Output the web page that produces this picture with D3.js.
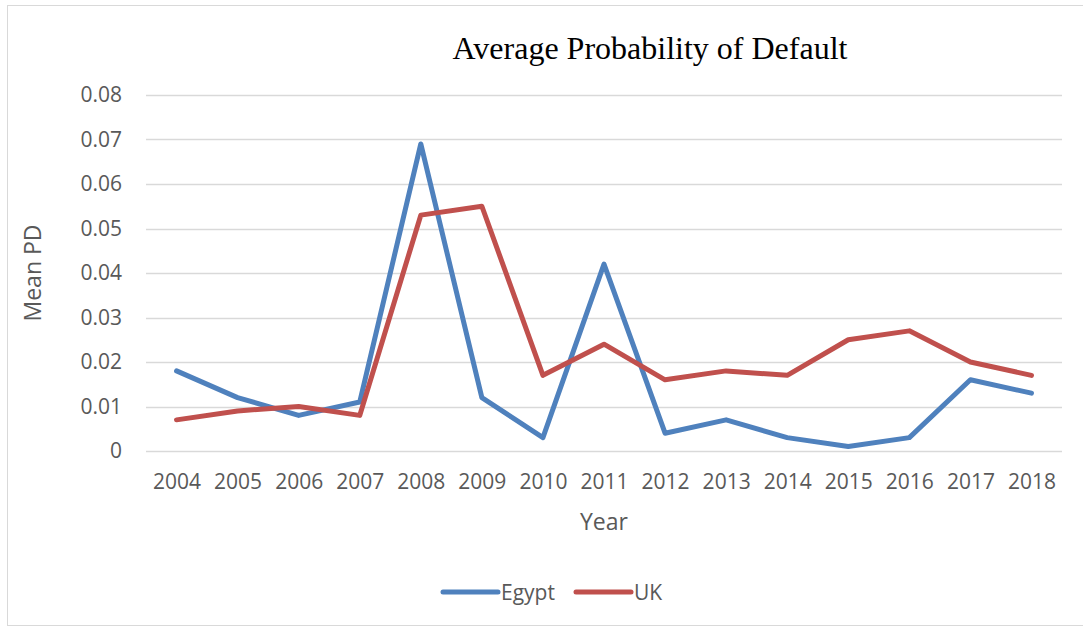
<!DOCTYPE html>
<html>
<head>
<meta charset="utf-8">
<script src="https://cdn.jsdelivr.net/npm/d3@7"></script>
<style>
  html, body { margin: 0; padding: 0; background: #fff; }
  svg { display: block; }
</style>
</head>
<body>
<svg id="chart" width="1083" height="628"></svg>
<script>
// Mean probability of default by year
const years = ["2004","2005","2006","2007","2008","2009","2010","2011","2012","2013","2014","2015","2016","2017","2018"];
const egypt = [0.018, 0.012, 0.008, 0.011, 0.069, 0.012, 0.003, 0.042, 0.004, 0.007, 0.003, 0.001, 0.003, 0.016, 0.013];
const uk    = [0.007, 0.009, 0.010, 0.008, 0.053, 0.055, 0.017, 0.024, 0.016, 0.018, 0.017, 0.025, 0.027, 0.020, 0.017];
const yTicks = [0, 0.01, 0.02, 0.03, 0.04, 0.05, 0.06, 0.07, 0.08];
const tickLabels = ["0", "0.01", "0.02", "0.03", "0.04", "0.05", "0.06", "0.07", "0.08"];

const series = [
  { name: "Egypt", values: egypt, color: "#4f81bd" },
  { name: "UK", values: uk, color: "#c0504d" }
];

const svg = d3.select("#chart");
const sans = "'Open Sans', 'Liberation Sans', sans-serif";

// chart frame
svg.append("rect")
  .attr("x", 7.5).attr("y", 5.5)
  .attr("width", 1090).attr("height", 620)
  .attr("fill", "#fff").attr("stroke", "#d9d9d9").attr("stroke-width", 1);

const plot = { left: 146, right: 1062, top: 95, bottom: 451 };

const x = d3.scalePoint().domain(years).range([plot.left, plot.right]).padding(0.5);
const y = d3.scaleLinear().domain([0, 0.08]).range([plot.bottom, plot.top]);

// horizontal gridlines
svg.append("g")
  .selectAll("line")
  .data(yTicks)
  .join("line")
  .attr("x1", plot.left).attr("x2", plot.right)
  .attr("y1", d => Math.round(y(d)) + 0.5).attr("y2", d => Math.round(y(d)) + 0.5)
  .attr("stroke", "#d9d9d9").attr("stroke-width", 1.3);

// y axis labels
const yAxis = d3.axisLeft(y).tickValues(yTicks)
  .tickFormat((d, i) => tickLabels[i]).tickSize(0).tickPadding(24);
const gy = svg.append("g").attr("transform", `translate(${plot.left},0)`).call(yAxis);
gy.select(".domain").remove();
gy.selectAll("text").attr("fill", "#595959").style("font-family", sans).style("font-size", "21px");

// x axis labels
const xAxis = d3.axisBottom(x).tickSize(0).tickPadding(23);
const gx = svg.append("g").attr("transform", `translate(0,${plot.bottom})`).call(xAxis);
gx.select(".domain").remove();
gx.selectAll("text").attr("fill", "#595959").style("font-family", sans).style("font-size", "21px");

// series lines
const line = d3.line()
  .x((d, i) => x(years[i]))
  .y(d => y(d));

svg.append("g")
  .selectAll("path")
  .data(series)
  .join("path")
  .attr("d", d => line(d.values))
  .attr("fill", "none")
  .attr("stroke", d => d.color)
  .attr("stroke-width", 5)
  .attr("stroke-linejoin", "round")
  .attr("stroke-linecap", "round");

// title
svg.append("text")
  .attr("x", 650).attr("y", 59)
  .attr("text-anchor", "middle")
  .style("font-family", "'Liberation Serif', 'Times New Roman', serif")
  .style("font-size", "32px")
  .attr("fill", "#000")
  .text("Average Probability of Default");

// axis titles
svg.append("text")
  .attr("transform", "translate(41,273) rotate(-90)")
  .attr("text-anchor", "middle")
  .style("font-family", sans).style("font-size", "23px")
  .attr("fill", "#595959")
  .text("Mean PD");

svg.append("text")
  .attr("x", 604).attr("y", 530)
  .attr("text-anchor", "middle")
  .style("font-family", sans).style("font-size", "23px")
  .attr("fill", "#595959")
  .text("Year");

// legend
const legendX = [443, 576];
const lg = svg.append("g").selectAll("g").data(series).join("g")
  .attr("transform", (d, i) => `translate(${legendX[i]},592)`);
lg.append("line")
  .attr("x1", 0).attr("x2", 55).attr("y1", 0).attr("y2", 0)
  .attr("stroke", d => d.color).attr("stroke-width", 5).attr("stroke-linecap", "round");
lg.append("text")
  .attr("x", 58).attr("y", 8)
  .style("font-family", sans).style("font-size", "21px")
  .attr("fill", "#595959")
  .text(d => d.name);
</script>
</body>
</html>
